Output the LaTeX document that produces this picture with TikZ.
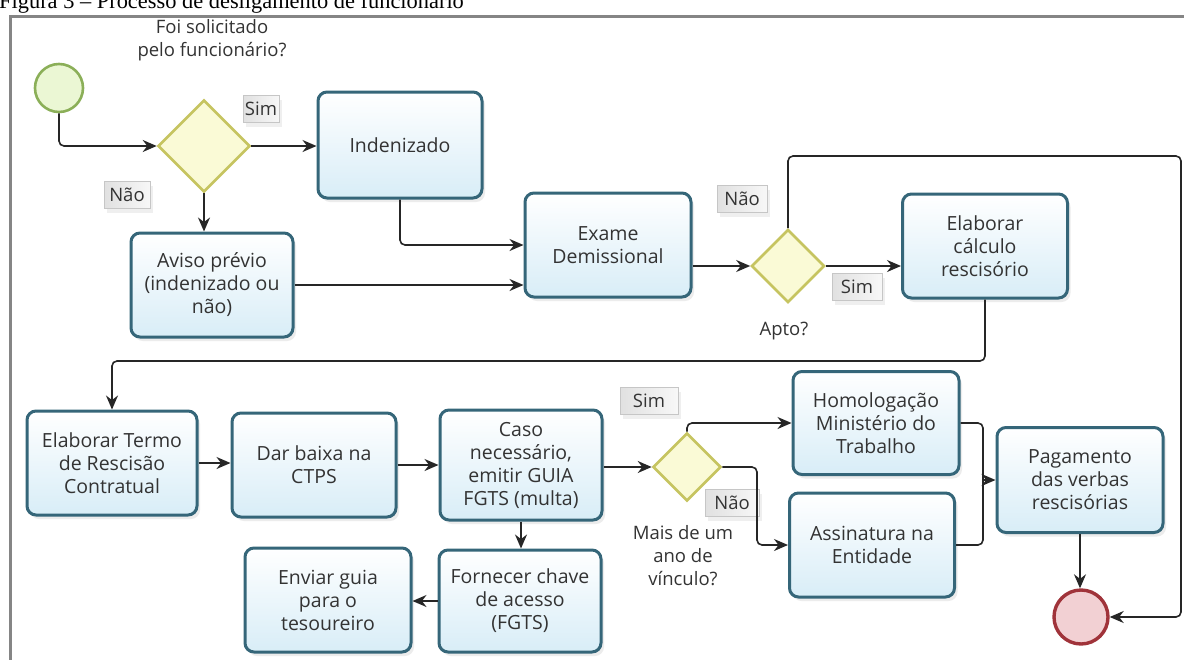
\documentclass[tikz,border=0pt]{standalone}
\usepackage{fontspec}
\setmainfont{Open Sans}
\newfontfamily\capfont{Liberation Serif}
\usetikzlibrary{shapes.geometric,arrows.meta,shadows,calc}
\definecolor{boxborder}{HTML}{356679}
\definecolor{boxfillB}{HTML}{D8EDF7}
\definecolor{txt}{HTML}{333333}
\definecolor{dborder}{HTML}{C6C460}
\definecolor{dfill}{HTML}{FAFAD6}
\definecolor{sborder}{HTML}{8BAF58}
\definecolor{sfill}{HTML}{EBF7D4}
\definecolor{eborder}{HTML}{A0333A}
\definecolor{efill}{HTML}{F2D0D3}
\definecolor{framec}{HTML}{858585}
\begin{document}
\begin{tikzpicture}[x=1pt,y=-1pt,
  tsize/.style 2 args={minimum width=#1pt, minimum height=#2pt},
  task/.style={rectangle, rounded corners=9pt, draw=boxborder, line width=3pt,
    top color=white, bottom color=boxfillB, inner sep=0pt, align=center, text=txt,
    font=\fontsize{19.5}{23}\selectfont,
    drop shadow={shadow xshift=3pt, shadow yshift=-4pt, opacity=0.15}},
  gw/.style={diamond, aspect=1, draw=dborder, line width=2.6pt, fill=dfill, inner sep=0pt,
    minimum width=#1pt, minimum height=#1pt},
  note/.style={align=center, text=txt, inner sep=0pt, font=\fontsize{18.5}{23}\selectfont},
  lbl/.style={rectangle, draw=gray!45, line width=0.6pt, left color=gray!24, right color=gray!6,
    text=txt, inner sep=0pt, minimum height=27pt, minimum width=#1pt,
    font=\fontsize{18.5}{22}\selectfont,
    drop shadow={shadow xshift=3pt, shadow yshift=-4pt, opacity=0.12}},
  startev/.style={circle, draw=sborder, line width=2.6pt, fill=sfill, minimum size=48pt, inner sep=0pt},
  endev/.style={circle, draw=eborder, line width=3.4pt, fill=efill, minimum size=54pt, inner sep=0pt},
  conn/.style={draw=black!85, line width=1.6pt, rounded corners=5pt, -{Stealth[length=14pt,width=12pt]}},
  plain/.style={draw=black!85, line width=1.6pt, rounded corners=5pt}
]
\useasboundingbox (0,0) rectangle (1184,659);
\clip (0,0) rectangle (1184,659);
\fill[white] (0,0) rectangle (1184,659);
% caption (cut at the top, as in the source) and frame
\node[anchor=base west, inner sep=0pt, font=\capfont\fontsize{22.4}{22.4}\selectfont] (cap) at (-1,8)
  {Figura 3 – Processo de desligamento de funcionário};
\draw[framec, line width=3pt] (10,670) -- (10,16) -- (1195,16);

% nodes
\node[startev] (start) at (59,88) {};
\node[gw=92] (d1) at (204,146) {};
\node[note] (q1) at (212,40) {Foi solicitado\\pelo funcionário?};
\node[task, tsize={164}{106}] (ind) at (400,145) {Indenizado};
\node[task, tsize={162}{104}] (aviso) at (212,285) {Aviso prévio\\(indenizado ou\\não)};
\node[task, tsize={166}{104}] (exame) at (608,245) {Exame\\Demissional};
\node[gw=73] (d2) at (788,266) {};
\node[note] (apto) at (784,331) {Apto?};
\node[task, tsize={165}{104}] (calc) at (985,246) {Elaborar\\cálculo\\rescisório};
\node[task, tsize={170}{104}] (termo) at (112,463) {Elaborar Termo\\de Rescisão\\Contratual};
\node[task, tsize={164}{104}] (ctps) at (314,465) {Dar baixa na\\CTPS};
\node[task, tsize={162}{110}] (caso) at (521,465) {Caso\\necessário,\\emitir GUIA\\FGTS (multa)};
\node[gw=68] (d3) at (687,467) {};
\node[note] (mais) at (683,556) {Mais de um\\ano de\\vínculo?};
\node[task, tsize={166}{103}] (homo) at (876,423) {Homologação\\Ministério do\\Trabalho};
\node[task, tsize={165}{104}] (assin) at (872,545) {Assinatura na\\Entidade};
\node[task, tsize={166}{105}] (pag) at (1080,480) {Pagamento\\das verbas\\rescisórias};
\node[endev] (end) at (1081,617) {};
\node[task, tsize={162}{102}] (forn) at (520,601) {Fornecer chave\\de acesso\\(FGTS)};
\node[task, tsize={166}{104}] (env) at (328,600) {Enviar guia\\para o\\tesoureiro};

% Sim / Não labels
\node[lbl=36] (sim1) at (261,109) {Sim};
\node[lbl=46] (nao1) at (127,195) {Não};
\node[lbl=50] (nao2) at (742,199) {Não};
\node[lbl=50] (sim2) at (857,287) {Sim};
\node[lbl=58] (sim3) at (649,401) {Sim};
\node[lbl=54] (nao3) at (732,503) {Não};

\coordinate (rt) at (1181,156);
\coordinate (mid) at (112,361);
\coordinate (nb) at (757,467);
\coordinate (jn) at (983,480);

% connectors
\draw[conn] (start.south) |- (d1.west);
\draw[conn] (d1.east) -- (d1.east -| ind.west);
\draw[conn] (d1.south) -- (d1.south |- aviso.north);
\draw[conn] (ind.south) |- (exame.west);
\draw[conn] (aviso.east) -- (aviso.east -| exame.west);
\draw[conn] (exame.east |- d2.west) -- (d2.west);
\draw[conn] (d2.east) -- (d2.east -| calc.west);
\draw[conn] (d2.north) |- (rt) |- (end.east);
\draw[conn] (calc.south) |- (mid) -- (termo.north);
\draw[conn] (termo.east) -- (termo.east -| ctps.west);
\draw[conn] (ctps.east) -- (ctps.east -| caso.west);
\draw[conn] (caso.east |- d3.west) -- (d3.west);
\draw[conn] (d3.north) |- (homo.west);
\draw[conn] (d3.east) -- (nb) |- (assin.west);
\draw[plain] (homo.east) -| (jn);
\draw[plain] (assin.east) -| (jn);
\draw[conn] (jn) -- (pag.west);
\draw[conn] (pag.south) -- (pag.south |- end.north);
\draw[conn] (caso.south) -- (caso.south |- forn.north);
\draw[conn] (forn.west) -- (forn.west -| env.east);
\end{tikzpicture}
\end{document}
